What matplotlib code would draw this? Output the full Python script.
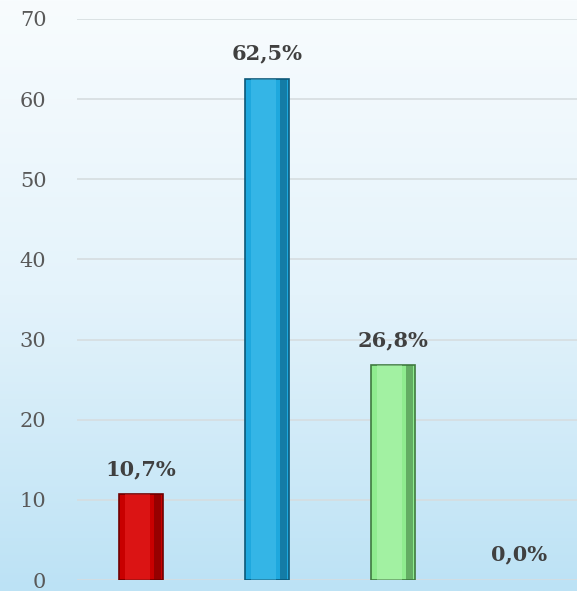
import matplotlib
matplotlib.use("Agg")
import matplotlib.pyplot as plt
import numpy as np

# dados do gráfico
categorias = ["A", "B", "C", "D"]
valores = [10.7, 62.5, 26.8, 0.0]
rotulos = ["10,7%", "62,5%", "26,8%", "0,0%"]
cores = ["#c80000", "#1ea8de", "#8fec8f", "#8fec8f"]
bordas = ["#6e0000", "#0c5878", "#3f7a3f", "#3f7a3f"]
luz = ["#ff3a3a", "#5fd0f5", "#c6fbc6", "#c6fbc6"]

fig = plt.figure(figsize=(5.77, 5.91), dpi=100)

# fundo em gradiente (branco em cima, azul claro em baixo)
bg = fig.add_axes([0, 0, 1, 1])
grad = np.linspace(0, 1, 256).reshape(-1, 1)
cmap = matplotlib.colors.LinearSegmentedColormap.from_list(
    "fundo", ["#f8fcfe", "#e4f3fb", "#bce2f5"])
bg.imshow(grad, aspect="auto", cmap=cmap, extent=[0, 1, 0, 1], origin="upper")
bg.axis("off")

ax = fig.add_axes([77 / 577, 11 / 591, 1 - 77 / 577, 561 / 591])
ax.patch.set_alpha(0)
x = np.arange(len(categorias))
largura = 0.35

# barras com valor zero não têm contorno
espessura = [1.2 if v > 0 else 0 for v in valores]
ax.bar(x, valores, width=largura, color=cores, edgecolor=bordas,
       linewidth=espessura, zorder=3)
# efeito de relevo: faixa interior mais clara e lado direito escuro
ax.bar(x - largura * 0.08, valores, width=largura * 0.55, color=luz,
       alpha=0.35, linewidth=0, zorder=4)
ax.bar(x + largura * 0.38, valores, width=largura * 0.16, color=bordas,
       alpha=0.55, linewidth=0, zorder=4)

for xi, v, r in zip(x, valores, rotulos):
    ax.annotate(r, (xi, v), xytext=(0, 11), textcoords="offset points",
                ha="center", va="bottom", fontsize=15, fontweight="bold",
                family="DejaVu Serif", color="#404040")

ax.set_ylim(0, 70)
ax.set_xlim(-0.508, 3.46)
ax.set_yticks(range(0, 71, 10))
ax.set_xticks([])
ax.yaxis.grid(True, color="#d6dde0", linewidth=1.2, zorder=0)
ax.tick_params(axis="y", length=0, pad=22, labelsize=15, labelcolor="#595959")
for lab in ax.get_yticklabels():
    lab.set_family("DejaVu Serif")
for s in ax.spines.values():
    s.set_visible(False)

fig.savefig("out.png", dpi=100)
